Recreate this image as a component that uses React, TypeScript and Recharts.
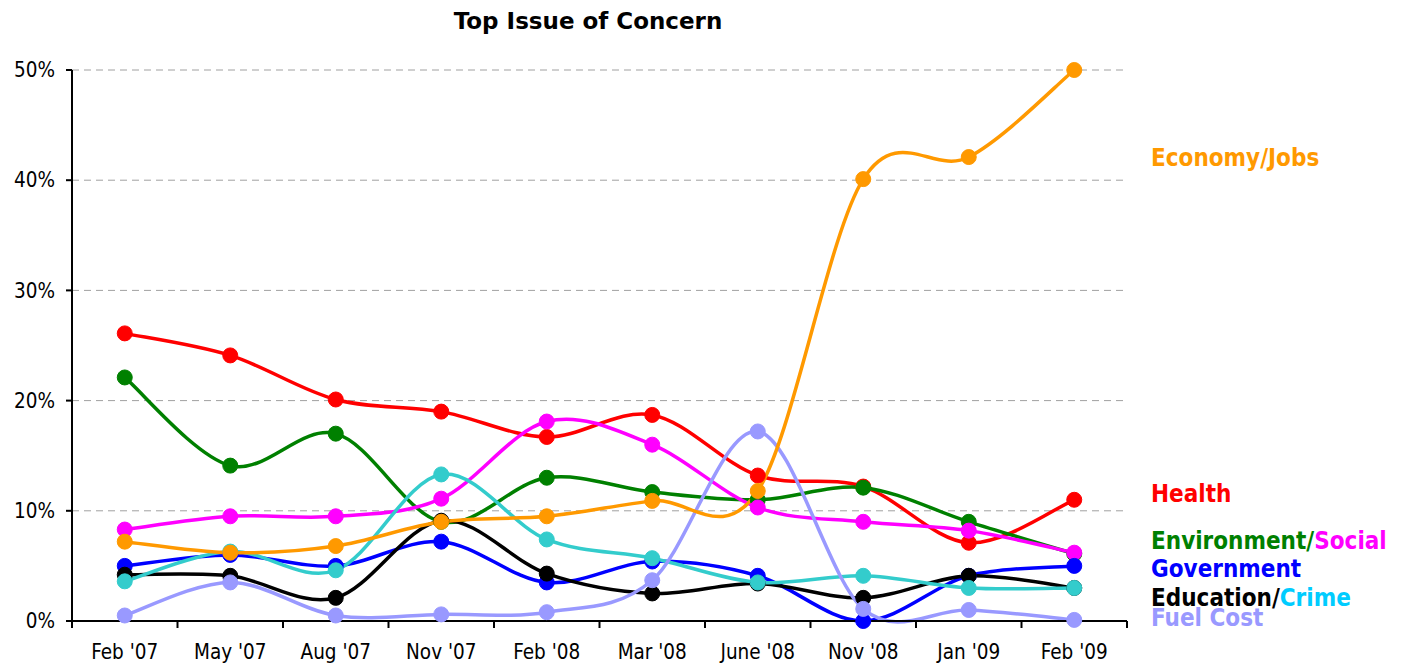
import React from 'react';
import { LineChart, Line, XAxis, YAxis, CartesianGrid } from 'recharts';

const categories = ["Feb '07", "May '07", "Aug '07", "Nov '07", "Feb '08", "Mar '08", "June '08", "Nov '08", "Jan '09", "Feb '09"];
const economy = [7.2, 6.2, 6.8, 9.0, 9.5, 10.9, 11.8, 40.1, 42.1, 50];
const health = [26.1, 24.1, 20.1, 19.0, 16.7, 18.7, 13.2, 12.2, 7.1, 11.0];
const environment = [22.1, 14.1, 17.0, 9.0, 13.0, 11.7, 11.0, 12.1, 9.0, 6.1];
const social = [8.3, 9.5, 9.5, 11.1, 18.1, 16.0, 10.3, 9.0, 8.2, 6.2];
const government = [5.0, 6.0, 5.0, 7.2, 3.5, 5.4, 4.1, 0.0, 4.1, 5.0];
const education = [4.2, 4.1, 2.1, 9.1, 4.3, 2.5, 3.4, 2.1, 4.1, 3.0];
const crime = [3.6, 6.3, 4.6, 13.3, 7.4, 5.7, 3.5, 4.1, 3.0, 3.0];
const fuel = [0.5, 3.5, 0.5, 0.6, 0.8, 3.7, 17.2, 1.1, 1.0, 0.1];
const yTicks = [0, 10, 20, 30, 40, 50];

const seriesList = [
  { key: 'health', values: health, color: '#FF0000' },
  { key: 'environment', values: environment, color: '#008000' },
  { key: 'social', values: social, color: '#FF00FF' },
  { key: 'government', values: government, color: '#0000FF' },
  { key: 'education', values: education, color: '#000000' },
  { key: 'crime', values: crime, color: '#33CCCC' },
  { key: 'fuel', values: fuel, color: '#9999FF' },
  { key: 'economy', values: economy, color: '#FF9900' },
];

const data = categories.map((c, i) => {
  const row: Record<string, number | string> = { i, name: c };
  seriesList.forEach((s) => { row[s.key] = s.values[i]; });
  return row;
});

const labelTicks = categories.map((_, i) => i);

// Excel-like smoothing (Catmull-Rom through the points)
const excelSmooth = (context: any) => {
  let pts: number[][] = [];
  return {
    areaStart() {},
    areaEnd() {},
    lineStart() { pts = []; },
    point(x: number, y: number) { pts.push([+x, +y]); },
    lineEnd() {
      const n = pts.length;
      if (!n) return;
      context.moveTo(pts[0][0], pts[0][1]);
      for (let k = 0; k < n - 1; k++) {
        const p0 = pts[k - 1] || pts[k];
        const p1 = pts[k];
        const p2 = pts[k + 1];
        const p3 = pts[k + 2] || p2;
        context.bezierCurveTo(
          p1[0] + (p2[0] - p0[0]) / 6, p1[1] + (p2[1] - p0[1]) / 6,
          p2[0] - (p3[0] - p1[0]) / 6, p2[1] - (p3[1] - p1[1]) / 6,
          p2[0], p2[1]
        );
      }
    },
  };
};

const condFont = "'DejaVu Sans Condensed', 'DejaVu Sans', sans-serif";
const titleFont = "'DejaVu Sans', Verdana, sans-serif";
const X_TICK_MARGIN = 23;
const X_TICK_LEN = 7;

const CategoryTick = (props: any) => {
  const { x, y, payload, index, width } = props;
  const band = (width || 1055) / categories.length;
  const hb = band / 2;
  const axisY = y - X_TICK_MARGIN;
  const isLast = index === categories.length - 1;
  return (
    <g>
      <line x1={x - hb} x2={x - hb} y1={axisY} y2={axisY + X_TICK_LEN} stroke="#000" strokeWidth={2} />
      {isLast && (
        <line x1={x + hb} x2={x + hb} y1={axisY} y2={axisY + X_TICK_LEN} stroke="#000" strokeWidth={2} />
      )}
      <text x={x} y={y} dy="0.71em" textAnchor="middle" fill="#000" fontSize={20.5} fontFamily={condFont}>
        {categories[payload.value]}
      </text>
    </g>
  );
};

const rightLabels = [
  { y: 166, parts: [{ t: 'Economy/Jobs', c: '#FF9900' }] },
  { y: 502, parts: [{ t: 'Health', c: '#FF0000' }] },
  { y: 549, parts: [{ t: 'Environment/', c: '#008000' }, { t: 'Social', c: '#FF00FF' }] },
  { y: 577, parts: [{ t: 'Government', c: '#0000FF' }] },
  { y: 606, parts: [{ t: 'Education/', c: '#000000' }, { t: 'Crime', c: '#00CCFF' }] },
  { y: 626, parts: [{ t: 'Fuel Cost', c: '#9999FF' }] },
];

export default function App() {
  return (
    <div style={{ position: 'absolute', left: 0, top: 0, width: 1405, height: 664, background: '#fff' }}>
      <LineChart width={1405} height={664} data={data} margin={{ top: 70, right: 278, bottom: 0, left: 0 }}>
        <CartesianGrid vertical={false} stroke="#A0A0A0" strokeDasharray="7 5" />
        <XAxis
          type="number"
          dataKey="i"
          domain={[-0.5, categories.length - 0.5]}
          ticks={labelTicks}
          tickLine={false}
          axisLine={{ stroke: '#000', strokeWidth: 2 }}
          tickSize={0}
          tickMargin={X_TICK_MARGIN}
          height={43}
          interval={0}
          tick={<CategoryTick />}
          allowDataOverflow
        />
        <YAxis
          type="number"
          domain={[0, 50]}
          ticks={yTicks}
          width={72}
          tickSize={6}
          tickMargin={11}
          tickFormatter={(v: number) => `${v}%`}
          axisLine={{ stroke: '#000', strokeWidth: 2 }}
          tickLine={{ stroke: '#000', strokeWidth: 2 }}
          tick={{ fill: '#000', fontSize: 20.5, fontFamily: condFont }}
        />
        {seriesList.map((s) => (
          <Line
            key={s.key}
            dataKey={s.key}
            type={excelSmooth as any}
            stroke={s.color}
            strokeWidth={3.5}
            dot={{ r: 7.5, fill: s.color, stroke: s.color, strokeWidth: 1 }}
            activeDot={false}
            isAnimationActive={false}
          />
        ))}
      </LineChart>
      <svg width={1405} height={664} style={{ position: 'absolute', left: 0, top: 0, pointerEvents: 'none' }}>
        <text x={588} y={29} textAnchor="middle" fontFamily={titleFont} fontWeight="bold" fontSize={23} fill="#000">
          Top Issue of Concern
        </text>
        {rightLabels.map((l, idx) => (
          <text key={idx} x={1151} y={l.y} fontFamily={condFont} fontWeight="bold" fontSize={24}>
            {l.parts.map((p, j) => (
              <tspan key={j} fill={p.c}>{p.t}</tspan>
            ))}
          </text>
        ))}
      </svg>
    </div>
  );
}
